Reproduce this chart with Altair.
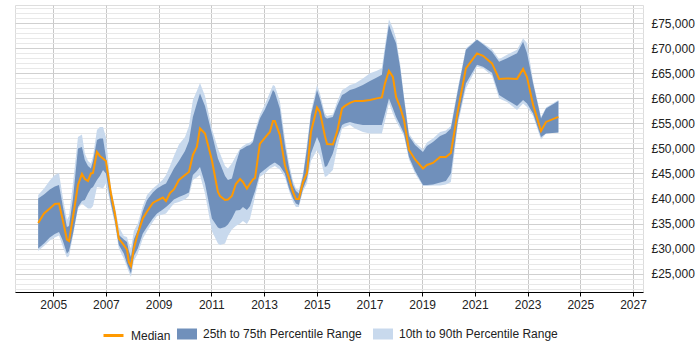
import altair as alt
import pandas as pd

years = [2004.43, 2004.65, 2004.87, 2005.06, 2005.22, 2005.37, 2005.52, 2005.60, 2005.75, 2005.94,
         2006.09, 2006.20, 2006.32, 2006.43, 2006.51, 2006.66, 2006.77, 2006.89, 2007.00, 2007.19,
         2007.34, 2007.49, 2007.68, 2007.80, 2007.87, 2007.95, 2008.06, 2008.21, 2008.40, 2008.56,
         2008.78, 2008.94, 2009.16, 2009.28, 2009.43, 2009.58, 2009.77, 2010.00, 2010.15, 2010.30,
         2010.45, 2010.57, 2010.76, 2011.02, 2011.25, 2011.33, 2011.52, 2011.63, 2011.78, 2011.93,
         2012.09, 2012.20, 2012.35, 2012.47, 2012.58, 2012.66, 2012.84, 2013.03, 2013.22, 2013.34,
         2013.41, 2013.60, 2013.79, 2013.95, 2014.10, 2014.21, 2014.32, 2014.48, 2014.63, 2014.78,
         2015.01, 2015.12, 2015.31, 2015.39, 2015.61, 2015.77, 2015.96, 2016.07, 2016.26, 2016.45,
         2016.75, 2017.02, 2017.28, 2017.47, 2017.59, 2017.74, 2017.89, 2018.01, 2018.16, 2018.31,
         2018.50, 2018.73, 2019.03, 2019.18, 2019.41, 2019.68, 2019.90, 2020.09, 2020.36, 2020.66,
         2021.08, 2021.31, 2021.65, 2021.92, 2022.22, 2022.60, 2022.83, 2022.98, 2023.21, 2023.51,
         2023.70, 2024.17]

median = [35.1, 37.0, 38.0, 38.9, 39.0, 35.5, 31.8, 31.5, 36.3, 42.7,
          44.9, 43.9, 43.5, 45.0, 45.1, 49.3, 48.5, 48.0, 47.5, 41.0,
          37.0, 32.0, 30.7, 29.8, 27.3, 26.5, 30.0, 33.0, 36.0, 37.4,
          39.1, 39.6, 40.2, 39.5, 41.1, 41.8, 43.7, 44.7, 45.3, 48.7,
          50.3, 54.0, 53.0, 47.7, 41.3, 40.5, 39.7, 39.8, 40.5, 42.9,
          43.9, 43.3, 42.0, 43.0, 43.8, 44.1, 50.9, 52.1, 53.3, 55.5,
          55.5, 52.7, 46.7, 44.0, 41.3, 39.9, 39.9, 43.3, 45.1, 53.3,
          58.2, 57.3, 52.5, 50.9, 50.8, 53.3, 58.0, 58.5, 59.1, 59.5,
          59.5, 59.7, 60.0, 60.2, 63.0, 65.5, 64.3, 60.3, 58.3, 55.7,
          49.7, 47.8, 46.0, 46.7, 47.1, 48.3, 48.3, 49.1, 57.7, 66.0,
          69.0, 68.5, 67.0, 63.9, 64.0, 63.9, 65.9, 64.2, 58.7, 53.5,
          55.3, 56.3]

p25 = [30.0, 31.0, 32.2, 32.9, 33.3, 31.5, 29.0, 29.5, 33.0, 38.3,
       39.5, 39.7, 41.0, 42.0, 42.3, 43.7, 44.5, 45.7, 45.0, 39.0,
       35.5, 30.7, 29.0, 27.0, 26.0, 25.0, 28.5, 30.0, 33.0, 34.3,
       36.0, 37.0, 37.8, 38.3, 39.0, 39.8, 40.3, 40.8, 41.2, 44.7,
       45.5, 46.3, 43.0, 36.0, 34.2, 34.0, 34.3, 34.8, 36.0, 37.6,
       37.7, 38.3, 37.7, 38.5, 40.3, 41.5, 45.0, 45.8, 46.6, 47.0,
       47.2, 46.5, 45.0, 42.0, 40.0, 39.0, 38.7, 42.0, 44.0, 49.0,
       52.3, 51.0, 46.3, 46.5, 49.0, 52.0, 54.7, 55.0, 55.3, 55.0,
       54.7, 54.7, 54.7, 54.7, 57.0, 60.0, 58.0, 56.3, 54.7, 53.0,
       48.3, 45.5, 42.7, 42.7, 42.8, 43.2, 43.5, 45.0, 55.7, 63.0,
       66.7, 66.3, 65.1, 60.7, 59.7, 58.5, 59.7, 59.0, 57.0, 52.3,
       53.0, 53.2]

p75 = [40.0, 40.8, 41.8, 42.4, 42.7, 38.3, 34.3, 34.5, 40.0, 50.0,
       50.3, 47.7, 46.5, 46.0, 47.5, 51.7, 52.0, 52.0, 48.3, 41.5,
       37.8, 32.7, 31.8, 31.3, 29.5, 28.3, 31.8, 33.7, 37.5, 39.7,
       41.2, 42.0, 42.7, 43.0, 44.5, 46.0, 47.5, 49.5, 51.5, 56.3,
       59.0, 61.0, 58.5, 53.0, 48.0, 47.0, 44.5, 43.7, 44.0, 47.0,
       49.7, 50.0, 50.5, 50.7, 51.3, 53.0, 56.0, 57.8, 60.0, 61.7,
       61.2, 58.0, 50.7, 46.0, 42.7, 41.5, 41.0, 44.5, 50.0, 56.7,
       61.7, 60.0, 56.3, 56.0, 56.3, 58.5, 60.7, 61.0, 61.7, 62.0,
       62.7, 63.5, 64.2, 64.7, 69.5, 74.7, 72.5, 71.0, 66.3, 60.0,
       52.5, 50.7, 49.3, 50.5, 51.3, 52.5, 53.0, 54.0, 61.7, 69.7,
       71.7, 70.8, 69.3, 67.3, 68.0, 69.0, 71.3, 69.0, 63.0, 56.0,
       58.0, 59.5]

p10 = [29.5, 30.5, 31.6, 32.2, 32.6, 30.3, 28.2, 28.5, 32.5, 38.0,
       39.0, 38.5, 38.0, 38.0, 38.5, 42.3, 42.2, 42.0, 43.0, 38.5,
       34.8, 30.0, 28.0, 26.3, 25.3, 24.3, 27.5, 29.0, 32.0, 33.5,
       35.3, 36.5, 36.8, 37.0, 38.0, 39.0, 39.3, 39.8, 40.5, 43.7,
       44.2, 44.7, 41.0, 33.5, 31.0, 30.7, 31.0, 32.5, 33.8, 34.5,
       35.0, 35.5, 34.9, 36.0, 38.5, 40.5, 44.3, 45.0, 46.0, 46.3,
       46.5, 45.8, 44.3, 41.5, 39.3, 38.3, 38.3, 41.5, 43.0, 47.5,
       49.7, 48.5, 44.3, 44.5, 45.7, 50.0, 54.0, 54.3, 54.7, 54.0,
       53.3, 53.0, 53.0, 53.0, 55.5, 59.0, 57.0, 55.5, 54.0, 52.5,
       47.8, 45.0, 42.5, 42.5, 42.6, 42.6, 42.8, 43.3, 55.0, 62.0,
       66.3, 66.0, 64.5, 60.0, 59.3, 57.7, 59.0, 58.3, 56.5, 51.8,
       53.0, 53.2]

p90 = [40.7, 42.0, 43.6, 44.7, 45.1, 40.0, 35.7, 36.5, 43.0, 52.3,
       52.8, 49.0, 47.5, 47.0, 48.5, 53.7, 54.3, 54.3, 52.3, 42.0,
       38.5, 34.3, 32.5, 32.3, 31.0, 30.0, 33.5, 35.0, 38.5, 40.7,
       42.0, 42.7, 43.8, 44.7, 46.5, 48.5, 50.8, 52.3, 54.5, 59.7,
       61.5, 63.1, 60.5, 54.0, 50.0, 49.0, 46.5, 46.0, 47.0, 48.5,
       50.0, 50.5, 51.0, 51.2, 51.7, 53.7, 56.7, 58.8, 61.2, 62.7,
       62.5, 59.5, 52.0, 47.0, 43.5, 42.0, 41.7, 45.0, 51.0, 57.3,
       62.7, 61.0, 57.0, 56.5, 56.8, 59.3, 61.7, 62.0, 62.7, 63.0,
       64.0, 65.0, 65.5, 66.0, 70.5, 75.8, 74.0, 72.0, 67.0, 60.5,
       53.0, 51.2, 49.8, 51.2, 52.0, 53.3, 53.6, 54.5, 62.3, 70.0,
       71.8, 71.0, 69.8, 67.8, 68.7, 69.7, 72.0, 71.0, 63.5, 56.3,
       58.2, 59.7]

x_ticks = [2005, 2007, 2009, 2011, 2013, 2015, 2017, 2019, 2021, 2023, 2025, 2027]
y_ticks = list(range(22000, 79000, 1000))

line_name = ["Median"]
line_color = ["#ff9900"]
band_names = ["25th to 75th Percentile Range", "10th to 90th Percentile Range"]
band_colors = ["#7090bb", "#c8d9ed"]

df = pd.DataFrame({
    "year": years,
    "median": [v * 1000 for v in median],
    "p25": [v * 1000 for v in p25],
    "p75": [v * 1000 for v in p75],
    "p10": [v * 1000 for v in p10],
    "p90": [v * 1000 for v in p90],
})

FONT = "Liberation Sans"

common_legend = dict(
    title=None,
    orient="none",
    direction="horizontal",
    labelFont=FONT,
    labelFontSize=12,
    labelColor="#222222",
    labelOffset=6,
    columnPadding=11,
    symbolSize=400,
    labelLimit=300,
    symbolOpacity=1,
)

line_legend = alt.Legend(legendX=87, legendY=319, symbolType="stroke",
                         symbolStrokeWidth=3, **common_legend)
band_legend = alt.Legend(legendX=162, legendY=319,
                         symbolType="M-1,-0.55H1V0.55H-1Z",
                         symbolStrokeWidth=0, **common_legend)

x_scale = alt.Scale(domain=[2003.55, 2027.38], nice=False, zero=False)
x_axis = alt.Axis(
    title=None,
    values=x_ticks,
    format="d",
    grid=True,
    gridColor="#c8c8c8",
    domainColor="#000000",
    domainWidth=1,
    tickColor="#000000",
    tickSize=4,
    labelFont=FONT,
    labelFontSize=12,
    labelColor="#222222",
    labelPadding=3,
    labelFlush=False,
)

y_scale = alt.Scale(domain=[21320, 78660], nice=False, zero=False)
y_axis = alt.Axis(
    title=None,
    orient="right",
    values=y_ticks,
    labelExpr="datum.value % 5000 === 0 ? '£' + format(datum.value, ',') : ''",
    labelOverlap=False,
    labelBound=False,
    labelFlush=False,
    grid=True,
    gridColor={"condition": {"test": "datum.value % 5000 === 0", "value": "#d0d0d0"}, "value": "#e8e8e8"},
    domain=False,
    ticks=False,
    labelPadding=8,
    labelFont=FONT,
    labelFontSize=12,
    labelColor="#222222",
)

band_scale = alt.Scale(domain=band_names, range=band_colors)

base = alt.Chart(df)

outer = base.mark_area(opacity=1).transform_calculate(
    series=f"'{band_names[1]}'"
).encode(
    x=alt.X("year:Q", scale=x_scale, axis=x_axis),
    y=alt.Y("p10:Q", scale=y_scale, axis=y_axis),
    y2="p90:Q",
    fill=alt.Fill("series:N", scale=band_scale, legend=band_legend),
)

inner = base.mark_area(opacity=1).transform_calculate(
    series=f"'{band_names[0]}'"
).encode(
    x=alt.X("year:Q", scale=x_scale, axis=x_axis),
    y=alt.Y("p25:Q", scale=y_scale, axis=y_axis),
    y2="p75:Q",
    fill=alt.Fill("series:N", scale=band_scale, legend=band_legend),
)

line = base.mark_line(strokeWidth=2).transform_calculate(
    lseries=f"'{line_name[0]}'"
).encode(
    x=alt.X("year:Q", scale=x_scale, axis=x_axis),
    y=alt.Y("median:Q", scale=y_scale, axis=y_axis),
    stroke=alt.Stroke("lseries:N", scale=alt.Scale(domain=line_name, range=line_color),
                      legend=line_legend),
)

chart = alt.layer(outer, inner, line).properties(
    width=628,
    height=287,
    padding={"left": 15, "top": 5, "right": 57, "bottom": 58},
    autosize=alt.AutoSizeParams(type="none"),
).configure_view(stroke=None).configure(background="white")

chart.save("out.html", embed_options={"renderer": "svg", "actions": False})
